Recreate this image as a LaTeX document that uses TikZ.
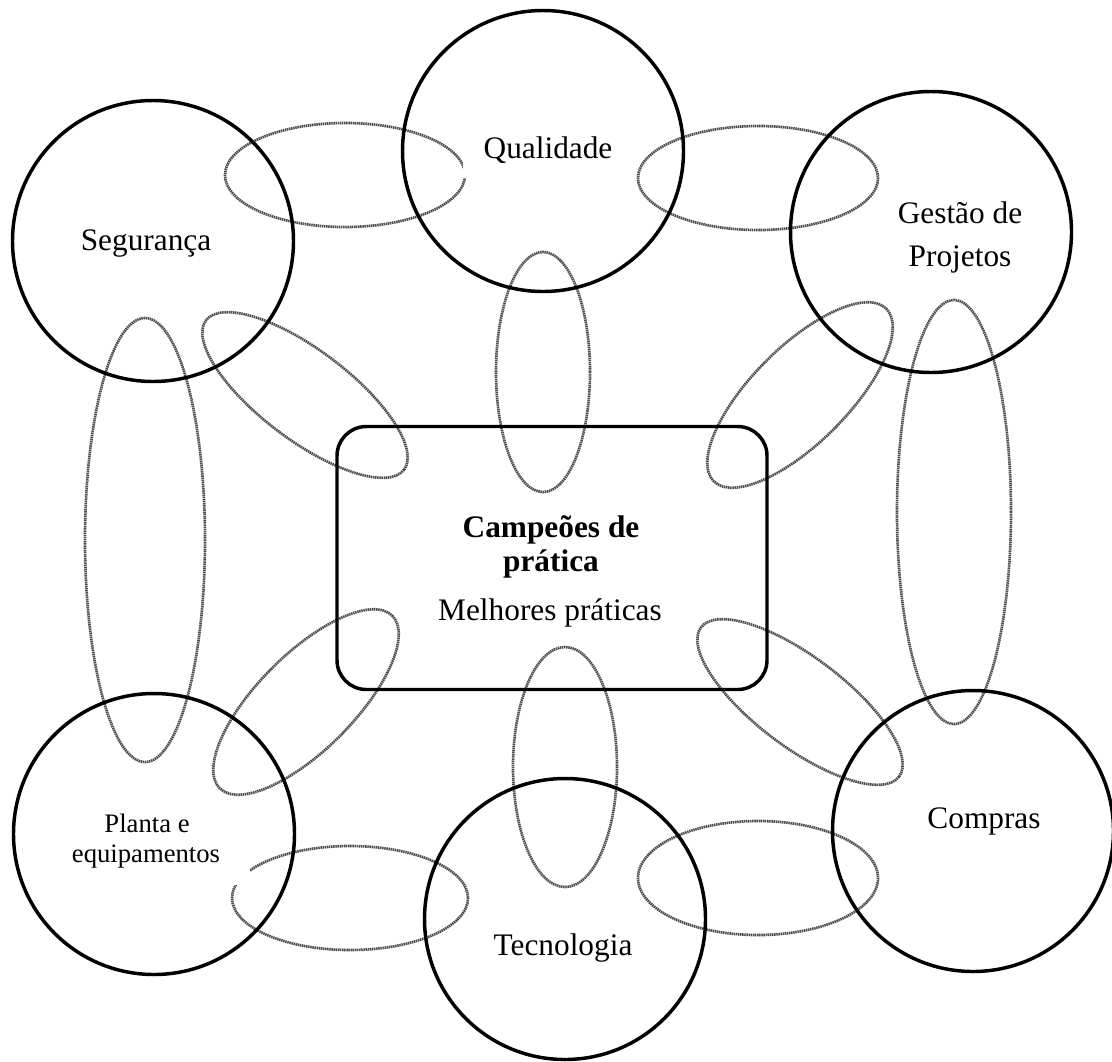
\documentclass[tikz,border=0pt]{standalone}
\usepackage{fontspec}
\setmainfont{Liberation Serif}
\begin{document}
\begin{tikzpicture}[x=0.75pt,y=-0.75pt,
  area/.style={circle,draw=black,line width=2.6pt,minimum size=281*0.75pt,inner sep=0pt},
  link/.style={draw=black!70,line width=2pt,dash pattern=on 1.1pt off 0.5pt},
  lbl/.style={anchor=base,inner sep=0pt,font=\fontsize{23.5}{28}\selectfont},
  small/.style={anchor=base,inner sep=0pt,font=\fontsize{20}{24}\selectfont},
  blank/.style={fill=white,draw=none},
  hub/.style={draw=black,line width=2.6pt,rounded corners=22pt,minimum width=430*0.75pt,minimum height=263*0.75pt}]
\useasboundingbox (0,0) rectangle (1112,1061);

% dotted links between practice areas
\draw[link] (345,175) ellipse [x radius=120, y radius=52];
\draw[link] (758,178) ellipse [x radius=120, y radius=52];
\draw[link] (543,372) ellipse [x radius=47, y radius=120];
\draw[link] (145,540) ellipse [x radius=60, y radius=222];
\draw[link] (954,512) ellipse [x radius=57, y radius=212];
\draw[link,rotate around={-37:(305,395)}] (305,395) ellipse [x radius=124, y radius=45];
\draw[link,rotate around={45:(800,395)}] (800,395) ellipse [x radius=122, y radius=48];
\draw[link,rotate around={45:(306,702)}] (306,702) ellipse [x radius=122, y radius=48];
\draw[link,rotate around={-37:(800,702)}] (800,702) ellipse [x radius=124, y radius=45];
\draw[link] (565,767) ellipse [x radius=52, y radius=120];
\draw[link] (350,898) ellipse [x radius=118, y radius=52];
\draw[link] (758,878) ellipse [x radius=120, y radius=57];

% practice areas
\node[area] (qual) at (543,151) {};
\node[area] (seg) at (153,241) {};
\node[area] (gest) at (931,232) {};
\node[area] (plant) at (154,834) {};
\node[area] (tec) at (565,919) {};
\node[area] (comp) at (973,831) {};

% central box
\node[hub] (hub) at (552,558) {};

% white label backgrounds
\fill[blank] (463,118) rectangle (633,178);
\fill[blank] (62,798) rectangle (250,885);
\fill[blank] (880,186) rectangle (1045,282);
\fill[blank] (475,917) rectangle (660,972);

% labels
\node[lbl] (tqual) at (548,158) {Qualidade};
\node[lbl] (tseg) at (146,250) {Segurança};
\node[lbl] (tgest1) at (960,223) {Gestão de};
\node[lbl] (tgest2) at (960,266) {Projetos};
\node[small] (tplant1) at (147,832) {Planta e};
\node[small] (tplant2) at (146,862) {equipamentos};
\node[lbl] (tcomp) at (984,828) {Compras};
\node[lbl] (ttec) at (563,955) {Tecnologia};
\node[lbl,font=\bfseries\fontsize{23.5}{28}\selectfont] (thub1) at (551,537) {Campeões de};
\node[lbl,font=\bfseries\fontsize{23.5}{28}\selectfont] (thub2) at (551,571) {prática};
\node[lbl] (thub3) at (550,620) {Melhores práticas};
\end{tikzpicture}
\end{document}
